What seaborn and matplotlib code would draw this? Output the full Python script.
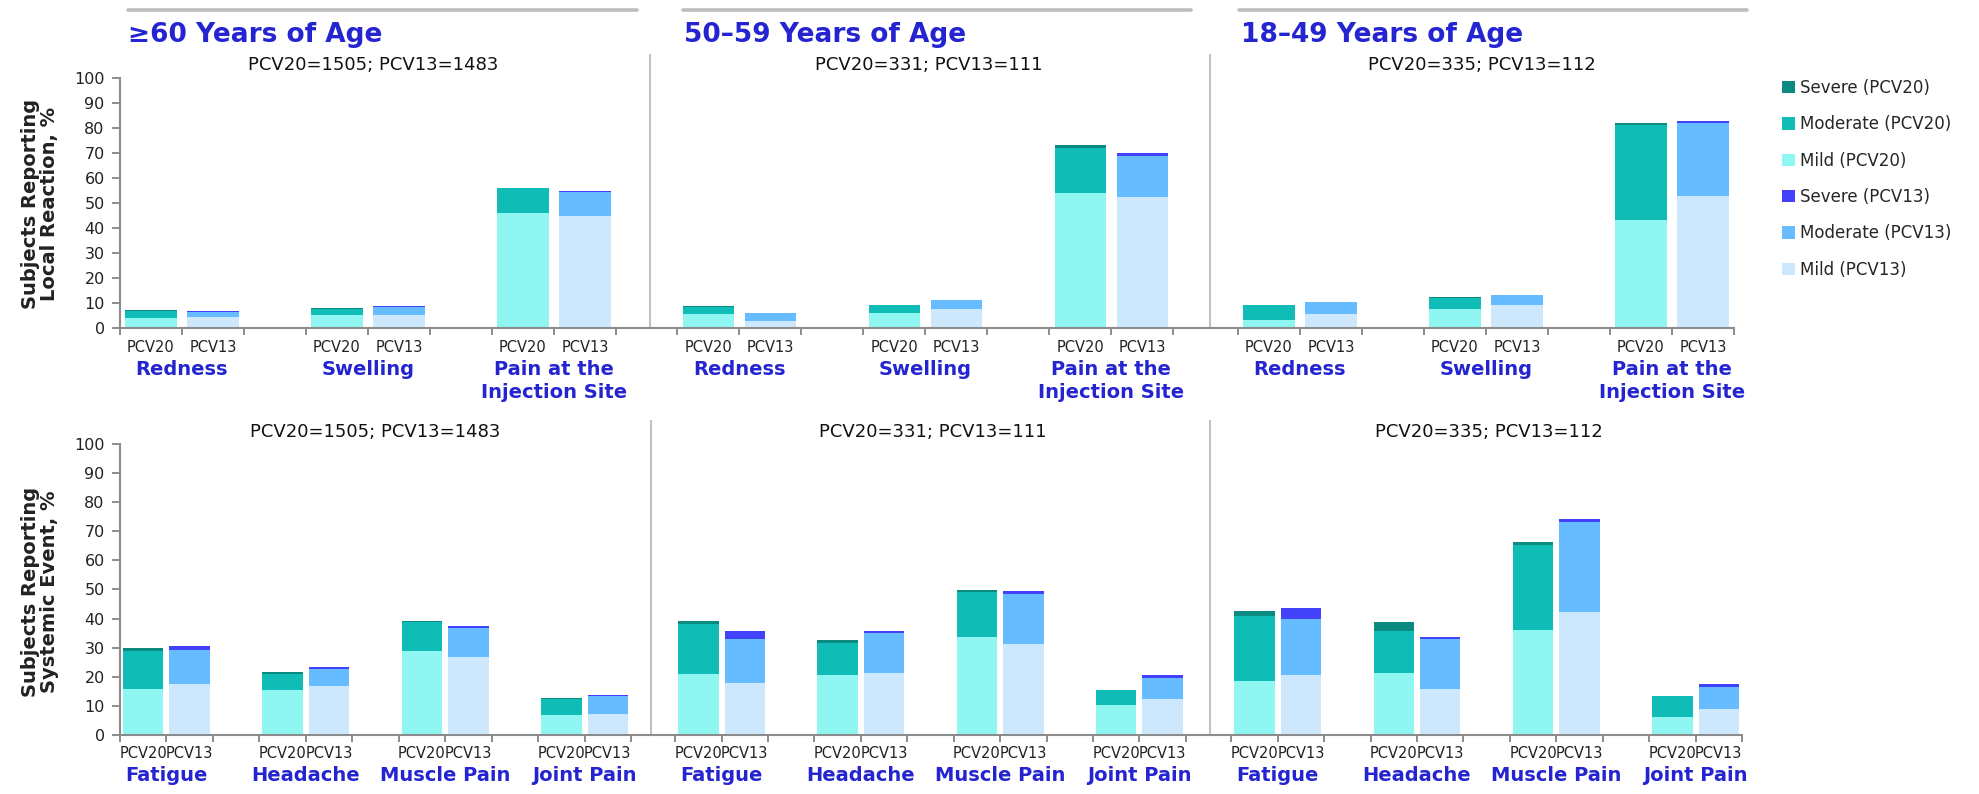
import pandas as pd
import seaborn as sns
import matplotlib.pyplot as plt
from matplotlib.patches import Patch
from matplotlib.lines import Line2D

# ---- data (percent of subjects), one inner list per age group ----
age_groups = ['≥60 Years of Age', '50–59 Years of Age', '18–49 Years of Age']
local_n = ['PCV20=1505; PCV13=1483', 'PCV20=331; PCV13=111', 'PCV20=335; PCV13=112']
systemic_n = ['PCV20=1505; PCV13=1483', 'PCV20=331; PCV13=111', 'PCV20=335; PCV13=112']
local_events = ['Redness', 'Swelling', 'Pain at the\nInjection Site']
systemic_events = ['Fatigue', 'Headache', 'Muscle Pain', 'Joint Pain']
vaccines = ['PCV20', 'PCV13']
levels = ['Mild', 'Moderate', 'Severe']

# local reactions: Redness, Swelling, Pain
local_mild_pcv20 = [[4.1, 5.2, 45.9], [5.5, 5.9, 53.9], [3.3, 7.6, 43.2]]
local_mod_pcv20 = [[2.7, 2.6, 10.0], [2.9, 3.3, 18.3], [5.8, 4.5, 38.2]]
local_sev_pcv20 = [[0.5, 0.2, 0.2], [0.3, 0.0, 1.0], [0.2, 0.2, 0.5]]
local_mild_pcv13 = [[4.3, 5.2, 44.7], [2.9, 7.5, 52.5], [5.7, 9.2, 52.9]]
local_mod_pcv13 = [[2.2, 3.1, 9.8], [3.0, 3.6, 16.5], [4.8, 4.0, 29.0]]
local_sev_pcv13 = [[0.2, 0.5, 0.2], [0.0, 0.0, 1.0], [0.0, 0.0, 0.8]]

# systemic events: Fatigue, Headache, Muscle Pain, Joint Pain
sys_mild_pcv20 = [[15.9, 15.3, 29.0, 6.9], [21.0, 20.6, 33.7, 10.4], [18.6, 21.4, 36.2, 6.2]]
sys_mod_pcv20 = [[12.8, 5.8, 9.8, 5.4], [17.2, 11.0, 15.6, 4.9], [22.2, 14.5, 29.1, 7.2]]
sys_sev_pcv20 = [[1.3, 0.5, 0.3, 0.3], [1.1, 0.9, 0.4, 0.0], [1.9, 2.9, 1.0, 0.0]]
sys_mild_pcv13 = [[17.4, 16.9, 26.9, 7.1], [17.9, 21.4, 31.3, 12.5], [20.5, 15.9, 42.1, 8.9]]
sys_mod_pcv13 = [[11.8, 5.9, 9.7, 6.4], [15.2, 13.7, 17.1, 7.2], [19.4, 17.1, 31.1, 7.6]]
sys_sev_pcv13 = [[1.4, 0.5, 0.7, 0.3], [2.8, 0.8, 1.0, 0.8], [3.7, 0.8, 1.0, 1.0]]

colors = {
    ('Severe', 'PCV20'): '#0a8a80',
    ('Moderate', 'PCV20'): '#10bdb6',
    ('Mild', 'PCV20'): '#8ff6f1',
    ('Severe', 'PCV13'): '#4242fb',
    ('Moderate', 'PCV13'): '#66bcfe',
    ('Mild', 'PCV13'): '#cde8fd',
}
blue = '#2424d0'
axis_gray = '#8c8c8c'
divider_gray = '#c2c2c2'

W, H = 1979, 794


# long table: one row per age group / event / vaccine
def build_frame(events, mild, mod, sev):
    rows = []
    for a, age in enumerate(age_groups):
        for e, event in enumerate(events):
            for v, vac in enumerate(vaccines):
                rows.append(dict(age=age, event=event, vaccine=vac, pos=3 * e + 0.5 + v,
                                 mild=mild[vac][a][e], moderate=mod[vac][a][e],
                                 severe=sev[vac][a][e]))
    df = pd.DataFrame(rows)
    df['mod_top'] = df['mild'] + df['moderate']
    df['sev_top'] = df['mod_top'] + df['severe']
    return df


local_df = build_frame(local_events,
                       {'PCV20': local_mild_pcv20, 'PCV13': local_mild_pcv13},
                       {'PCV20': local_mod_pcv20, 'PCV13': local_mod_pcv13},
                       {'PCV20': local_sev_pcv20, 'PCV13': local_sev_pcv13})
sys_df = build_frame(systemic_events,
                     {'PCV20': sys_mild_pcv20, 'PCV13': sys_mild_pcv13},
                     {'PCV20': sys_mod_pcv20, 'PCV13': sys_mod_pcv13},
                     {'PCV20': sys_sev_pcv20, 'PCV13': sys_sev_pcv13})

sns.set_style('white')
plt.rcParams['font.family'] = ['DejaVu Sans']

fig = plt.figure(figsize=(W / 100, H / 100), dpi=100)


def px_axes(x0, x1, ytop, ybot):
    return fig.add_axes([x0 / W, 1 - ybot / H, (x1 - x0) / W, (ybot - ytop) / H])


# stacked bars: draw totals first, then cover with lower segments
def draw_panel(ax, d, width):
    for col, lvl in [('sev_top', 'Severe'), ('mod_top', 'Moderate'), ('mild', 'Mild')]:
        sns.barplot(data=d, x='pos', y=col, hue='vaccine', hue_order=vaccines,
                    palette={v: colors[(lvl, v)] for v in vaccines},
                    native_scale=True, dodge=False, width=width, saturation=1,
                    errorbar=None, legend=False, linewidth=0, ax=ax)


def style_row(axes, events, df, xlims, ytop_val, width, n_labels, n_y,
              n_x, ylabel, label_xy, pcv_pad, group_y):
    n_slots = 3 * len(events) - 1
    for i, ax in enumerate(axes):
        d = df[df['age'] == age_groups[i]]
        draw_panel(ax, d, width)
        ax.set_xlim(*xlims[i])
        ax.set_ylim(0, ytop_val)
        ax.set_xlabel('')
        ax.set_ylabel('')
        for s in ['top', 'right']:
            ax.spines[s].set_visible(False)
        ax.spines['bottom'].set_color(axis_gray)
        ax.spines['bottom'].set_linewidth(1.5)
        # PCV labels as major ticks, slot boundaries as minor ticks
        ax.set_xticks(d['pos'].tolist())
        ax.set_xticklabels(d['vaccine'].tolist())
        ax.set_xticks(list(range(0, n_slots + 1)), minor=True)
        ax.tick_params(axis='x', which='major', length=0, pad=pcv_pad, labelsize=10.5,
                       labelcolor='#222222')
        ax.tick_params(axis='x', which='minor', length=5, width=1.4, color=axis_gray,
                       direction='out', bottom=True)
        for e, event in enumerate(events):
            ax.text(3 * e + 1, group_y, event, transform=ax.get_xaxis_transform(),
                    ha='center', va='top', color=blue, fontsize=14, fontweight='bold',
                    linespacing=1.25)
        if i == 0:
            ax.spines['left'].set_color(axis_gray)
            ax.spines['left'].set_linewidth(1.5)
            ax.spines['left'].set_bounds(0, 100)
            ax.set_yticks(range(0, 101, 10))
            ax.tick_params(axis='y', length=6, width=1.4, color=axis_gray, left=True,
                           labelsize=11.5, pad=5, labelcolor='#222222')
            ax.set_ylabel(ylabel, fontsize=14, fontweight='bold', linespacing=1.0,
                          color='#222222')
            ax.yaxis.label.set_va('center')
            ax.yaxis.set_label_coords(*label_xy)
        else:
            ax.spines['left'].set_color(divider_gray)
            ax.spines['left'].set_linewidth(1.5)
            ax.set_yticks([])
        fig.text(n_x[i] / W, 1 - n_y / H, n_labels[i], ha='center', va='center',
                 fontsize=13, color='#111111')


# top row: local reactions
top_axes = [px_axes(120, 650, 55, 328), px_axes(650, 1210, 55, 328),
            px_axes(1210, 1734, 55, 328)]
style_row(top_axes, local_events, local_df,
          [(0, 8.55), (-0.44, 8.59), (-0.45, 8.0)], 109.2, 0.83,
          local_n, 65, [373, 929, 1482],
          'Subjects Reporting\nLocal Reaction, %', (-0.151, 0.454), 8.5, -0.118)

# bottom row: systemic events
bot_axes = [px_axes(120, 651, 421, 735), px_axes(651, 1210, 421, 735),
            px_axes(1210, 1742, 421, 735)]
style_row(bot_axes, systemic_events, sys_df,
          [(0, 11.43), (-0.52, 11.52), (-0.46, 11.0)], 107.9, 0.87,
          systemic_n, 432, [375, 933, 1489],
          'Subjects Reporting\nSystemic Event, %', (-0.151, 0.455), 8, -0.1)

# age group headers with gray rules above
title_x = [128, 684, 1241]
rules = [(128, 637), (683, 1191), (1239, 1747)]
for i, age in enumerate(age_groups):
    fig.text(title_x[i] / W, 1 - 35 / H, age, ha='left', va='center', fontsize=19,
             fontweight='bold', color=blue)
    x0, x1 = rules[i]
    fig.add_artist(Line2D([x0 / W, x1 / W], [1 - 10 / H, 1 - 10 / H], color='#bdbdbd',
                          lw=2.6, transform=fig.transFigure))

# legend
handles = []
labels = []
for vac in ['PCV20', 'PCV13']:
    for lvl in ['Severe', 'Moderate', 'Mild']:
        handles.append(Patch(facecolor=colors[(lvl, vac)], edgecolor='none'))
        labels.append(f'{lvl} ({vac})')
fig.legend(handles, labels, loc='upper left', bbox_to_anchor=(1782 / W, 1 - 79 / H),
           frameon=False, fontsize=12, handlelength=0.75, handleheight=0.75,
           handletextpad=0.3, labelspacing=1.1, borderaxespad=0, borderpad=0)

fig.savefig('out.png', dpi=100)
